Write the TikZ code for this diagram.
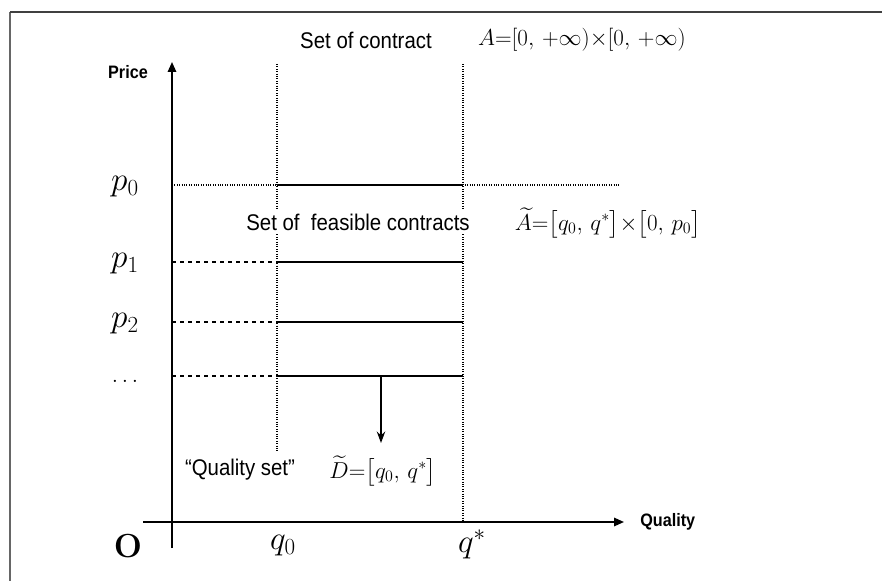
\documentclass[tikz,border=0pt]{standalone}
\usepackage{amsmath}
\usepackage{fontspec}
\setsansfont[FakeStretch=0.9]{Liberation Sans}
\usetikzlibrary{arrows.meta, positioning}

\begin{document}
\begin{tikzpicture}[x=0.75pt,y=-0.75pt,
      lbl/.style={font=\sffamily\fontsize{17}{20}\selectfont,inner sep=1pt},
      axlbl/.style={font=\sffamily\bfseries\fontsize{13.5}{16}\selectfont,inner sep=1pt},
      tick/.style={font=\fontsize{24}{28}\selectfont,inner sep=1pt},
      setdef/.style={font=\fontsize{17.5}{20}\selectfont,inner sep=0pt},
      seg/.style={line width=1.5pt},
      guide/.style={densely dotted,line width=0.8pt},
      axis/.style={-{Triangle[length=2.6mm,width=2.2mm]},line width=1.3pt}]

    \useasboundingbox (0,0) rectangle (882,581);
    \draw[black!60,line width=0.9pt] (10,581) -- (10,12);
    \draw[black!75,line width=1.2pt] (10,12) -- (882,12);

    % axes
    \coordinate (ybot)   at (172,548);
    \coordinate (ytop)   at (172,62);
    \coordinate (xleft)  at (143,522);
    \coordinate (xright) at (624,522);
    \draw[axis] (ybot) -- (ytop);
    \draw[axis] (xleft) -- (xright);
    \node[axlbl] (price) at (128,72) {Price};
    \node[axlbl,right=11pt of xright] (quality) {Quality};
    \node[font=\bfseries\fontsize{25}{28}\selectfont] (origin) at (128,546) {O};
    \node[tick] (q0lbl) at (283,546) {$q_0$};
    \node[tick] (qslbl) at (472,544) {$q^*$};

    % quality bounds
    \coordinate (q0top) at (277,64);
    \coordinate (q0bot) at (277,452);
    \coordinate (qstop) at (463,64);
    \coordinate (qsbot) at (463,522);
    \draw[guide] (q0top) -- (q0bot);
    \draw[guide] (qstop) -- (qsbot);

    % price levels
    \node[tick] (p0lbl) at (125,187) {$p_0$};
    \draw[guide] (172,185) -- (620,185);
    \draw[seg] (277,185) -- (463,185);
    \foreach \y/\nm in {262/p1lbl, 322/p2lbl}{
      \draw[dashed,line width=0.8pt] (172,\y) -- (277,\y);
      \draw[seg] (277,\y) -- (463,\y);
    }
    \node[tick] at (125,264) (p1lbl) {$p_1$};
    \node[tick] at (125,324) (p2lbl) {$p_2$};
    \draw[dashed,line width=0.8pt] (172,376) -- (277,376);
    \draw[seg] (277,376) -- (463,376);
    \node[font=\fontsize{17}{19}\selectfont] (pdlbl) at (125,381) {$\ldots$};

    % projection
    \coordinate (projtop) at (381,376);
    \coordinate (projbot) at (381,443);
    \draw[-{Stealth[length=3mm,width=2.2mm]},line width=1.3pt] (projtop) -- (projbot);

    % set labels
    \node[lbl] (setA)   at (366,40)  {Set of contract};
    \node[setdef,font=\fontsize{16}{19}\selectfont] (defA) at (582,40)
          {$A{=}[0,\,{+}\infty){\times}[0,\,{+}\infty)$};
    \node[lbl,fill=white,inner sep=3pt] (setF) at (358,222) {Set of\ \ feasible contracts};
    \node[setdef] (defF) at (608,223)
          {$\widetilde{A}{=}\bigl[q_0,\,q^*\bigr]{\times}\bigl[0,\,p_0\bigr]$};
    \node[lbl] (setD)   at (240,470) {``Quality set''};
    \node[setdef] (defD) at (383,471)
          {$\widetilde{D}{=}\bigl[q_0,\,q^*\bigr]$};
  \end{tikzpicture}
\end{document}
